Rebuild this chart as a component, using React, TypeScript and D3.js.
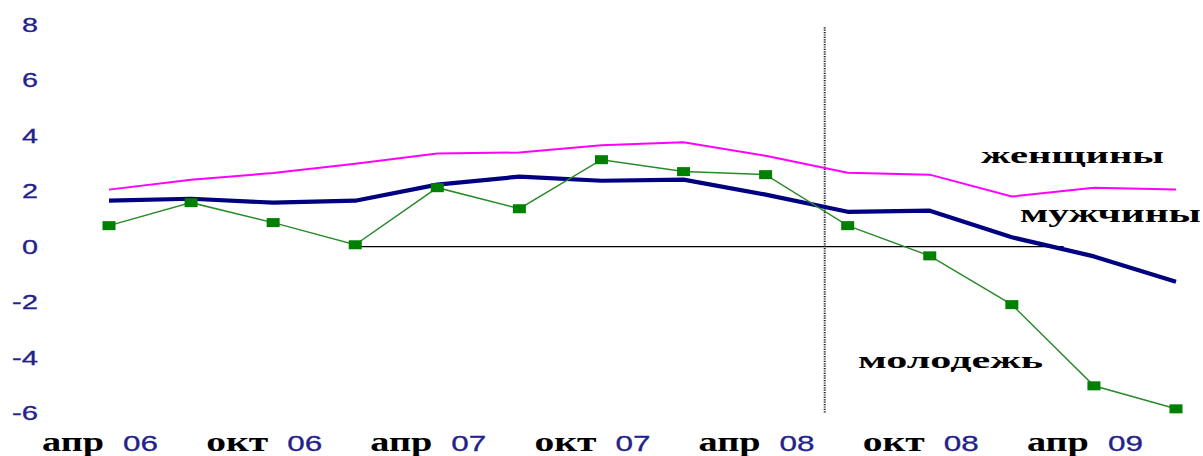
import React from "react";
import * as d3 from "d3";

// Quarterly series, % change
const quarters = [
  "апр 06", "июл 06", "окт 06", "янв 07", "апр 07", "июл 07", "окт 07",
  "янв 08", "апр 08", "июл 08", "окт 08", "янв 09", "апр 09", "июл 09",
];
const women = [2.06, 2.42, 2.66, 2.99, 3.36, 3.4, 3.66, 3.77, 3.28, 2.67, 2.6, 1.81, 2.13, 2.06];
const men = [1.66, 1.73, 1.59, 1.66, 2.24, 2.53, 2.38, 2.42, 1.88, 1.26, 1.3, 0.34, -0.35, -1.26];
const youth = [0.76, 1.59, 0.87, 0.07, 2.13, 1.37, 3.14, 2.71, 2.6, 0.76, -0.33, -2.09, -5.02, -5.85];

const yTicks = [8, 6, 4, 2, 0, -2, -4, -6];
const tickQuarters = ["апр 06", "окт 06", "апр 07", "окт 07", "апр 08", "окт 08", "апр 09"];
const tickMonths = ["апр", "окт", "апр", "окт", "апр", "окт", "апр"];
const tickYears = ["06", "06", "07", "07", "08", "08", "09"];

const W = 1203;
const H = 456;

export default function App() {
  const x = d3.scalePoint<string>().domain(quarters).range([109, 1176]);
  const y = d3.scaleLinear().domain([-6, 8]).range([413, 25]);
  const step = x.step();

  const line = d3
    .line<number>()
    .x((_, i) => x(quarters[i]) as number)
    .y((d) => y(d));

  const zeroStart = x("янв 07") as number;
  const zeroEnd = (x("янв 09") as number) + step * 0.63;
  const crisisX = (x("апр 08") as number) + step * 0.72;

  const serif = "'Liberation Serif', 'Times New Roman', serif";
  const sans = "'Liberation Sans', Arial, sans-serif";
  const navyText = "#22228a";

  return (
    <svg
      width={W}
      height={H}
      style={{ position: "absolute", left: 0, top: 0, background: "#fff" }}
    >
      {/* y tick labels */}
      {yTicks.map((t) => {
        const label = String(t);
        const w = t < 0 ? 26 : 16;
        return (
          <text
            key={t}
            x={38 - w}
            y={y(t) + 7}
            fontFamily={sans}
            fontSize={19.5}
            fill={navyText}
            stroke={navyText}
            strokeWidth={0.3}
            textLength={w}
            lengthAdjust="spacingAndGlyphs"
          >
            {label}
          </text>
        );
      })}

      {/* zero line */}
      <line x1={zeroStart} x2={zeroEnd} y1={y(0)} y2={y(0)} stroke="#000" strokeWidth={1.3} />

      {/* crisis marker */}
      <line
        x1={crisisX}
        x2={crisisX}
        y1={y(7.92)}
        y2={y(-6)}
        stroke="#222"
        strokeWidth={2}
        strokeDasharray="1.2,1.2"
      />

      {/* series lines */}
      <path d={line(women) as string} fill="none" stroke="#ff00ff" strokeWidth={2} />
      <path d={line(men) as string} fill="none" stroke="#000080" strokeWidth={4.2} strokeLinejoin="round" />
      <path d={line(youth) as string} fill="none" stroke="#2a8a2a" strokeWidth={1.5} />
      {youth.map((v, i) => (
        <rect
          key={i}
          x={(x(quarters[i]) as number) - 6.5}
          y={y(v) - 4.5}
          width={13}
          height={9}
          fill="#008000"
        />
      ))}

      {/* series labels */}
      <text x={981} y={163} fontFamily={serif} fontWeight="bold" fontSize={24} fill="#000"
        textLength={183} lengthAdjust="spacingAndGlyphs">женщины</text>
      <text x={1020} y={222} fontFamily={serif} fontWeight="bold" fontSize={25} fill="#000"
        textLength={181} lengthAdjust="spacingAndGlyphs">мужчины</text>
      <text x={858} y={368} fontFamily={serif} fontWeight="bold" fontSize={24} fill="#000"
        textLength={185} lengthAdjust="spacingAndGlyphs">молодежь</text>

      {/* x tick labels */}
      {tickQuarters.map((q, i) => {
        const cx = x(q) as number;
        return (
          <g key={q}>
            <text x={cx - 67} y={451} fontFamily={serif} fontWeight="bold" fontSize={27} fill="#000"
              textLength={62} lengthAdjust="spacingAndGlyphs">{tickMonths[i]}</text>
            <text x={cx + 14} y={451} fontFamily={sans} fontSize={22} fill={navyText}
              stroke={navyText} strokeWidth={0.3}
              textLength={35} lengthAdjust="spacingAndGlyphs">{tickYears[i]}</text>
          </g>
        );
      })}
    </svg>
  );
}
